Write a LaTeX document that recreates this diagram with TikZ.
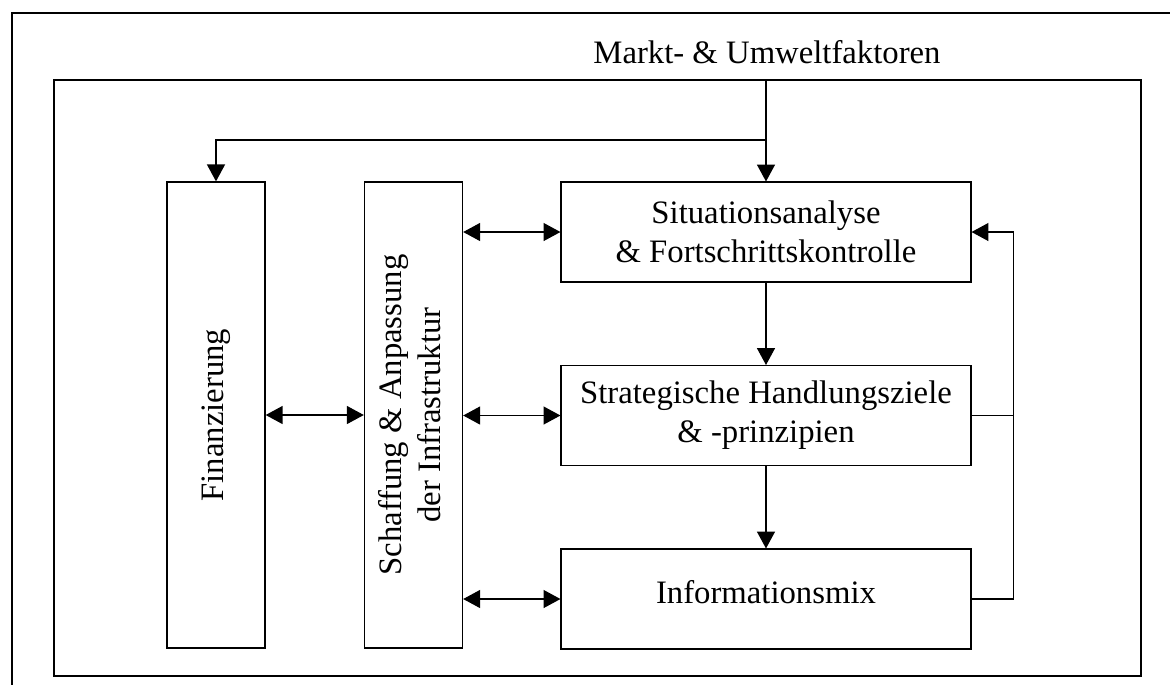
\documentclass[tikz,border=0pt]{standalone}
\usepackage{fontspec}
\usepackage{graphicx}
\setmainfont{Liberation Serif}
\usetikzlibrary{arrows.meta}

\tikzset{
  box/.style  = {draw, line width=0.45pt, inner sep=0pt, align=center},
  vbox/.style = {box, minimum width=36pt, minimum height=170.9pt},
  hbox/.style = {box, minimum width=150.3pt, minimum height=36.6pt},
  link/.style = {line width=0.45pt, -{Triangle[length=6.2pt,width=6.6pt]}},
  both/.style = {line width=0.45pt, {Triangle[length=6.2pt,width=6.6pt]}-{Triangle[length=6.2pt,width=6.6pt]}}
}

\begin{document}
\begin{tikzpicture}[x=0.3667pt, y=-0.3667pt, font=\fontsize{12}{14.3}\selectfont]
            \useasboundingbox (0,0) rectangle (1170,684);
            \clip             (0,0) rectangle (1170,684);
            % frames
            \draw[line width=0.45pt] (  12, 13) rectangle (1200,720);
            \draw[line width=0.45pt] (  54, 80) rectangle (1141,676);

            \node[anchor=base] (markt) at (767, 63) {Markt- \& Umweltfaktoren};

            \node[vbox] (fin)    at (216, 415) {\rotatebox{90}{Finanzierung}};
            \node[vbox] (schaff) at (413.5, 415) {\rotatebox{90}{\begin{tabular}{@{}c@{}}Schaffung \& Anpassung\\der Infrastruktur\end{tabular}}};
            \node[hbox] (situ)   at (766, 232) {Situationsanalyse\\\& Fortschrittskontrolle};
            \node[hbox] (strat)  at (766, 415.5) {Strategische Handlungsziele\\\& -prinzipien};
            \node[hbox, text depth=5pt] (info) at (766, 599) {Informationsmix};

            \coordinate (entry) at (766, 80);
            \coordinate (split) at (766, 140);

            \draw[line width=0.45pt] (entry) -- (split);
            \draw[link] (split) -- (situ.north);
            \draw[link] (split) -| (fin.north);
            \draw[both] (fin.east) -- (schaff.west);
            \draw[both] (schaff.east |- situ)  -- (situ.west);
            \draw[both] (schaff.east |- strat) -- (strat.west);
            \draw[both] (schaff.east |- info)  -- (info.west);
            \draw[link] (situ.south)  -- (strat.north);
            \draw[link] (strat.south) -- (info.north);
            % feedback loop
            \draw[link] (info.east) -- ++(42,0) |- (situ.east);
            \draw[line width=0.45pt] (strat.east) -- ++(42,0);
\end{tikzpicture}
\end{document}
